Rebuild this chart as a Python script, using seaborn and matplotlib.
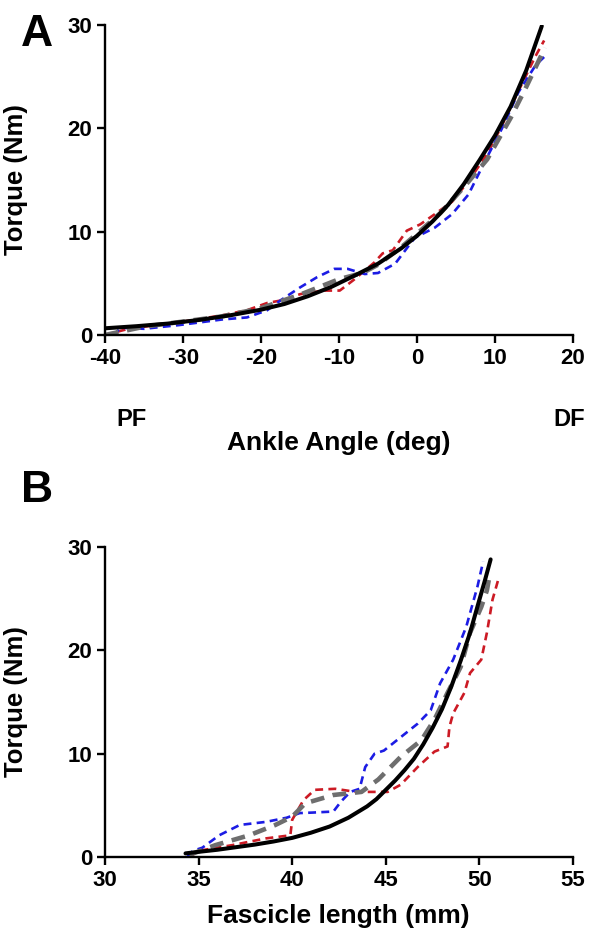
import matplotlib
matplotlib.use("Agg")
import matplotlib.pyplot as plt
import seaborn as sns

# ---------------- Panel A data (Ankle angle vs torque) ----------------
A_fit_x = [-40, -36, -32, -28, -24, -20, -17, -14, -11, -8, -5, -2, 0, 2, 4, 6, 8, 10, 12, 14, 16]
A_fit_y = [0.65, 0.85, 1.1, 1.45, 1.9, 2.45, 3.0, 3.75, 4.65, 5.75, 6.9, 8.4, 9.6, 11.0, 12.6, 14.6,
           16.9, 19.3, 22.1, 25.6, 29.9]

A_mean_x = [-40, -35, -30, -25, -20, -15, -12, -10, -7, -5, -2, 0, 3, 6, 9, 12, 14, 16.4]
A_mean_y = [0.0, 0.8, 1.3, 1.8, 2.6, 3.9, 4.8, 5.4, 6.0, 6.8, 8.5, 9.8, 11.8, 14.3, 17.0, 21.0, 24.0, 27.8]

A_red_x = [-40, -37, -33, -30, -25, -21.8, -19.2, -17, -15, -12, -9.9, -8, -5.5, -4.4, -3.1, -1.3, 0.4,
           2.3, 4.5, 6.6, 9, 10.9, 13, 15.2, 16.3]
A_red_y = [0.0, 0.6, 1.0, 1.3, 1.9, 2.4, 3.1, 3.4, 3.95, 4.3, 4.3, 5.4, 7.0, 7.9, 8.2, 10.1, 10.7,
           11.7, 12.9, 14.9, 17.5, 20.3, 23.6, 27.0, 28.5]

A_blue_x = [-39, -37.9, -35, -30.5, -25, -21.8, -19.2, -17.5, -15, -12.8, -10.6, -8.9, -6.7, -5, -2.8,
            -0.3, 2.3, 4.5, 6.6, 8.7, 10.9, 13, 15.2, 16.7]
A_blue_y = [0.0, 0.7, 0.6, 0.96, 1.5, 1.7, 2.4, 3.35, 4.6, 5.6, 6.4, 6.4, 5.9, 6.0, 6.9,
            9.4, 10.4, 11.7, 13.6, 16.8, 20.0, 23.5, 26.1, 27.2]

# ---------------- Panel B data (Fascicle length vs torque) ----------------
B_fit_x = [34.3, 35, 36, 37, 38, 39, 40, 41, 42, 43, 44, 44.5, 45, 45.5, 46, 46.5, 47, 47.5, 48, 48.5,
           49, 49.5, 50, 50.3, 50.6]
B_fit_y = [0.35, 0.5, 0.7, 0.95, 1.2, 1.5, 1.85, 2.35, 2.95, 3.8, 4.9, 5.6, 6.5, 7.4, 8.4, 9.5, 10.9,
           12.5, 14.3, 16.5, 19.0, 21.7, 24.9, 26.8, 28.8]

B_mean_x = [34.5, 35.9, 37.7, 39.1, 40.0, 40.7, 42.2, 43.7, 44.6, 45.8, 46.9, 47.6, 48.3, 49.0, 49.5, 50.1, 50.4, 50.5]
B_mean_y = [0.2, 1.15, 2.1, 3.1, 3.9, 5.2, 6.0, 6.3, 7.5, 9.7, 11.3, 13.3, 15.9, 18.4, 21.7, 24.2, 25.8, 26.8]

B_red_x = [34.5, 35.0, 36.8, 38.6, 39.9, 40.0, 40.6, 41.2, 42.3, 43.4, 44.1, 45.1, 45.8, 46.7, 47.6, 48.3,
           48.4, 48.6, 49.2, 49.5, 50.1, 50.4, 50.7, 51.0]
B_red_y = [0.0, 0.6, 1.15, 1.8, 2.1, 3.6, 5.5, 6.5, 6.6, 6.3, 6.3, 6.3, 7.0, 8.7, 10.2, 10.7,
           12.6, 13.9, 15.9, 17.8, 19.1, 21.7, 24.9, 26.8]

B_blue_x = [34.4, 34.7, 35.2, 36.1, 37.2, 38.6, 39.7, 40.4, 41.1, 42.2, 42.6, 43.1, 43.6, 43.9, 44.4, 44.9,
            45.8, 46.7, 47.4, 47.9, 48.6, 49.3, 49.9, 50.2]
B_blue_y = [0.0, 0.6, 0.9, 2.1, 3.1, 3.4, 3.8, 4.25, 4.3, 4.4, 5.35, 6.3, 6.6, 8.7, 10.0, 10.3,
            11.6, 12.9, 14.2, 16.8, 19.1, 22.3, 26.2, 28.6]

A_xticks = [-40, -30, -20, -10, 0, 10, 20]
B_xticks = [30, 35, 40, 45, 50, 55]
yticks = [0, 10, 20, 30]

RED = "#cc1a24"
BLUE = "#1c1ce4"
GRAY = "#6e6e6e"

sns.set_theme(style="ticks")
plt.rcParams["font.family"] = ["Liberation Sans", "DejaVu Sans"]
plt.rcParams["font.weight"] = "bold"
for k in ("text.color", "axes.labelcolor", "xtick.color", "ytick.color", "axes.edgecolor"):
    plt.rcParams[k] = "black"

fig = plt.figure(figsize=(5.89, 9.35), dpi=100)
W, H = 589, 935


def ax_rect(x0, x1, ytop, ybot):
    return [x0 / W, 1 - ybot / H, (x1 - x0) / W, (ybot - ytop) / H]


axA = fig.add_axes(ax_rect(105, 573, 25, 335))
axB = fig.add_axes(ax_rect(105, 573, 547, 857))


def draw(ax, red, blue, mean, fit):
    sns.lineplot(x=red[0], y=red[1], ax=ax, color=RED, lw=1.9, sort=False, estimator=None,
                 linestyle=(0, (3.0, 2.0)))
    sns.lineplot(x=blue[0], y=blue[1], ax=ax, color=BLUE, lw=1.9, sort=False, estimator=None,
                 linestyle=(0, (3.0, 2.0)))
    sns.lineplot(x=mean[0], y=mean[1], ax=ax, color=GRAY, lw=3.3, sort=False, estimator=None,
                 linestyle=(0, (3.0, 1.9)))
    sns.lineplot(x=fit[0], y=fit[1], ax=ax, color="black", lw=2.9, sort=False, estimator=None)


draw(axA, (A_red_x, A_red_y), (A_blue_x, A_blue_y), (A_mean_x, A_mean_y), (A_fit_x, A_fit_y))
draw(axB, (B_red_x, B_red_y), (B_blue_x, B_blue_y), (B_mean_x, B_mean_y), (B_fit_x, B_fit_y))

for ax, xt in ((axA, A_xticks), (axB, B_xticks)):
    ax.set_xlim(xt[0], xt[-1])
    ax.set_ylim(0, 30)
    ax.set_xticks(xt)
    ax.set_yticks(yticks)
    ax.set_xticklabels([str(v) for v in xt], fontsize=16, fontweight="bold")
    ax.set_yticklabels([str(v) for v in yticks], fontsize=16, fontweight="bold")
    for s in ("top", "right"):
        ax.spines[s].set_visible(False)
    for s in ("left", "bottom"):
        ax.spines[s].set_linewidth(1.7)
        ax.spines[s].set_color("black")
    ax.tick_params(axis="both", direction="out", length=6, width=1.7, color="black", pad=3)
    ax.set_xlabel("")
    ax.set_ylabel("Torque (Nm)", fontsize=18.5, fontweight="bold")
    ax.yaxis.set_label_coords(-0.165, 0.5)
    ax.patch.set_alpha(0)

fig.text(37 / W, 1 - 35 / H, "A", fontsize=32, fontweight="bold", ha="center", va="center")
fig.text(37 / W, 1 - 490 / H, "B", fontsize=32, fontweight="bold", ha="center", va="center")
fig.text(131 / W, 1 - 420 / H, "PF", fontsize=17, fontweight="bold", ha="center", va="center")
fig.text(569 / W, 1 - 420 / H, "DF", fontsize=17, fontweight="bold", ha="center", va="center")
fig.text(339 / W, 1 - 443 / H, "Ankle Angle (deg)", fontsize=19, fontweight="bold", ha="center", va="center")
fig.text(338 / W, 1 - 916 / H, "Fascicle length (mm)", fontsize=19, fontweight="bold", ha="center", va="center")

fig.savefig("out.png", dpi=100, facecolor="white")
